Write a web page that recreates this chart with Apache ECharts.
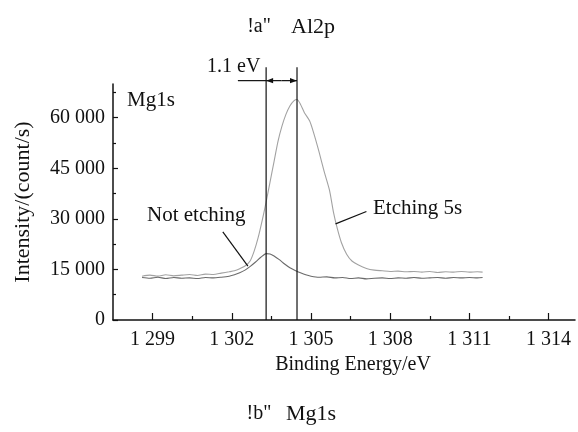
<!DOCTYPE html>
<html><head><meta charset="utf-8">
<script src="https://cdn.jsdelivr.net/npm/echarts@6/dist/echarts.min.js"></script>
<style>html,body{margin:0;padding:0;background:#fff}#c{width:578px;height:432px}</style>
</head><body><div id="c"></div>
<script>
// Etching 5s curve
const etchEnergy = [1298.6,1298.9,1299.2,1299.5,1299.8,1300.1,1300.4,1300.7,1301.0,1301.3,1301.6,1301.9,1302.1,1302.3,1302.5,1302.7,1302.85,1303.0,1303.15,1303.3,1303.45,1303.6,1303.75,1303.9,1304.05,1304.2,1304.35,1304.47,1304.6,1304.75,1304.95,1305.1,1305.3,1305.5,1305.7,1305.85,1306.0,1306.15,1306.35,1306.55,1306.8,1307.1,1307.4,1307.7,1308.0,1308.3,1308.6,1308.9,1309.2,1309.5,1309.8,1310.1,1310.4,1310.7,1311.0,1311.3,1311.5];
const etchIntensity = [13000,13300,13000,13400,13100,13300,13500,13200,13600,13500,13900,14300,14600,15200,16000,17600,20500,24500,29500,35000,41000,47000,53000,57500,61000,63500,65000,65400,64000,61500,59000,55500,50000,44000,38500,32000,27000,23000,19500,17500,16300,15300,14800,14600,14400,14500,14300,14400,14200,14400,14100,14300,14200,14400,14200,14300,14200];
// Not etching curve
const notEnergy = [1298.6,1298.9,1299.2,1299.5,1299.8,1300.1,1300.4,1300.7,1301.0,1301.3,1301.6,1301.9,1302.1,1302.3,1302.5,1302.7,1302.9,1303.1,1303.3,1303.45,1303.6,1303.8,1304.0,1304.2,1304.4,1304.6,1304.8,1305.0,1305.3,1305.6,1305.9,1306.2,1306.5,1306.8,1307.1,1307.4,1307.7,1308.0,1308.3,1308.6,1308.9,1309.2,1309.5,1309.8,1310.1,1310.4,1310.7,1311.0,1311.3,1311.5];
const notIntensity = [12600,12400,12700,12300,12600,12400,12500,12300,12600,12500,12700,13000,13400,14000,14800,15900,17200,18600,19700,19600,19000,17900,16600,15500,14700,14000,13400,13000,12700,12800,12500,12600,12300,12500,12200,12400,12500,12300,12500,12400,12600,12400,12500,12600,12400,12600,12500,12600,12500,12600];
// Axis ticks
const xTickLabels = [1299,1302,1305,1308,1311,1314];
const xMinorTicks = [1300.5,1303.5,1306.5,1309.5,1312.5];
const yTickLabels = [0,15000,30000,45000,60000];
const yMinorTicks = [7500,22500,37500,52500,67500];
// Peak positions (eV) marking the 1.1 eV shift
const shiftLines = [1303.3,1304.47];
const arrowLevel = 71000;
const midShift = (shiftLines[0] + shiftLines[1]) / 2;
// Annotation segments in data units: [x1, y1, x2, y2, arrowAtEnd]
const annotSegments = [
  [shiftLines[0], 0, shiftLines[0], 75000, 0],
  [shiftLines[1], 0, shiftLines[1], 75000, 0],
  [1302.23, arrowLevel, shiftLines[0], arrowLevel, 0],
  [midShift, arrowLevel, shiftLines[0], arrowLevel, 1],
  [midShift, arrowLevel, shiftLines[1], arrowLevel, 1],
  [1301.66, 26140, 1302.61, 15990, 0],
  [1307.10, 32170, 1305.93, 28500, 0]
];

const FONT = 'Liberation Serif';
const fmt = v => String(v).replace(/\B(?=(\d{3})+(?!\d))/g, ' ');
const pairs = (xs, ys) => xs.map((x, i) => [x, ys[i]]);

const chart = echarts.init(document.getElementById('c'), null, {renderer: 'canvas'});
const axisBase = {min: 1297.5, max: 1315, type: 'value', gridIndex: 0};
chart.setOption({
  animation: false,
  backgroundColor: '#fff',
  grid: {left: 113, right: 3, top: 84, bottom: 112},
  xAxis: [
    Object.assign({}, axisBase, {
      position: 'bottom',
      name: 'Binding Energy/eV', nameLocation: 'middle', nameGap: 31,
      nameTextStyle: {fontFamily: FONT, fontSize: 20, color: '#111', padding: [0, 0, 0, 18]},
      axisLine: {show: true, lineStyle: {color: '#111', width: 1.5}},
      axisTick: {show: true, inside: true, length: 7, customValues: xTickLabels, lineStyle: {color: '#111', width: 1.2}},
      axisLabel: {customValues: xTickLabels, formatter: fmt, margin: 10, fontFamily: FONT, fontSize: 20, color: '#111'},
      splitLine: {show: false}
    }),
    Object.assign({}, axisBase, {
      position: 'bottom', offset: 0,
      axisLine: {show: false},
      axisTick: {show: true, inside: true, length: 4, customValues: xMinorTicks, lineStyle: {color: '#111', width: 1.2}},
      axisLabel: {show: false},
      splitLine: {show: false}
    })
  ],
  yAxis: [
    {
      type: 'value', min: 0, max: 70000, position: 'left',
      name: 'Intensity/(count/s)', nameLocation: 'middle', nameGap: 79,
      nameTextStyle: {fontFamily: FONT, fontSize: 22, color: '#111'},
      axisLine: {show: true, lineStyle: {color: '#111', width: 1.5}},
      axisTick: {show: true, inside: true, length: 5, customValues: yTickLabels, lineStyle: {color: '#111', width: 1.2}},
      axisLabel: {customValues: yTickLabels, formatter: fmt, margin: 8, fontFamily: FONT, fontSize: 20, color: '#111'},
      splitLine: {show: false}
    },
    {
      type: 'value', min: 0, max: 70000, position: 'left', offset: 0,
      axisLine: {show: false},
      axisTick: {show: true, inside: true, length: 3, customValues: yMinorTicks, lineStyle: {color: '#111', width: 1.2}},
      axisLabel: {show: false},
      splitLine: {show: false}
    }
  ],
  series: [
    {
      name: 'Etching 5s', type: 'line', xAxisIndex: 0, yAxisIndex: 0,
      data: pairs(etchEnergy, etchIntensity), showSymbol: false, smooth: 0.25,
      lineStyle: {color: '#a2a2a2', width: 1.1}, z: 2
    },
    {
      name: 'Not etching', type: 'line', xAxisIndex: 0, yAxisIndex: 0,
      data: pairs(notEnergy, notIntensity), showSymbol: false, smooth: 0.25,
      lineStyle: {color: '#6a6a6a', width: 1.1}, z: 2
    },
    {
      name: 'annot', type: 'custom', xAxisIndex: 0, yAxisIndex: 0, clip: false, z: 3, silent: true,
      data: annotSegments,
      encode: {x: [0, 2], y: [1, 3]},
      renderItem: function (params, api) {
        const p1 = api.coord([api.value(0), api.value(1)]);
        const p2 = api.coord([api.value(2), api.value(3)]);
        const children = [{
          type: 'line',
          shape: {x1: p1[0], y1: p1[1], x2: p2[0], y2: p2[1]},
          style: {stroke: '#111', lineWidth: 1.2}
        }];
        if (api.value(4)) {
          const dx = p2[0] - p1[0], dy = p2[1] - p1[1];
          const len = Math.sqrt(dx * dx + dy * dy) || 1;
          const ux = dx / len, uy = dy / len;
          const L = 7, W = 2.6;
          const bx = p2[0] - ux * L, by = p2[1] - uy * L;
          children.push({
            type: 'polygon',
            shape: {points: [[p2[0], p2[1]], [bx - uy * W, by + ux * W], [bx + uy * W, by - ux * W]]},
            style: {fill: '#111'}
          });
        }
        return {type: 'group', children: children};
      }
    }
  ],
  graphic: [
    {type: 'text', x: 259, y: 27, style: {text: '!a"', font: '20px "Liberation Serif"', fill: '#111', textAlign: 'center', textVerticalAlign: 'middle'}},
    {type: 'text', x: 291, y: 27, style: {text: 'Al2p', font: '22px "Liberation Serif"', fill: '#111', textAlign: 'left', textVerticalAlign: 'middle'}},
    {type: 'text', x: 259, y: 414, style: {text: '!b"', font: '20px "Liberation Serif"', fill: '#111', textAlign: 'center', textVerticalAlign: 'middle'}},
    {type: 'text', x: 286, y: 414, style: {text: 'Mg1s', font: '22px "Liberation Serif"', fill: '#111', textAlign: 'left', textVerticalAlign: 'middle'}},
    {type: 'text', x: 207, y: 67, style: {text: '1.1 eV', font: '20px "Liberation Serif"', fill: '#111', textAlign: 'left', textVerticalAlign: 'middle'}},
    {type: 'text', x: 127, y: 100, style: {text: 'Mg1s', font: '21px "Liberation Serif"', fill: '#111', textAlign: 'left', textVerticalAlign: 'middle'}},
    {type: 'text', x: 147, y: 215, style: {text: 'Not etching', font: '21px "Liberation Serif"', fill: '#111', textAlign: 'left', textVerticalAlign: 'middle'}},
    {type: 'text', x: 373, y: 208, style: {text: 'Etching 5s', font: '21px "Liberation Serif"', fill: '#111', textAlign: 'left', textVerticalAlign: 'middle'}}
  ]
});
</script>
</body></html>
